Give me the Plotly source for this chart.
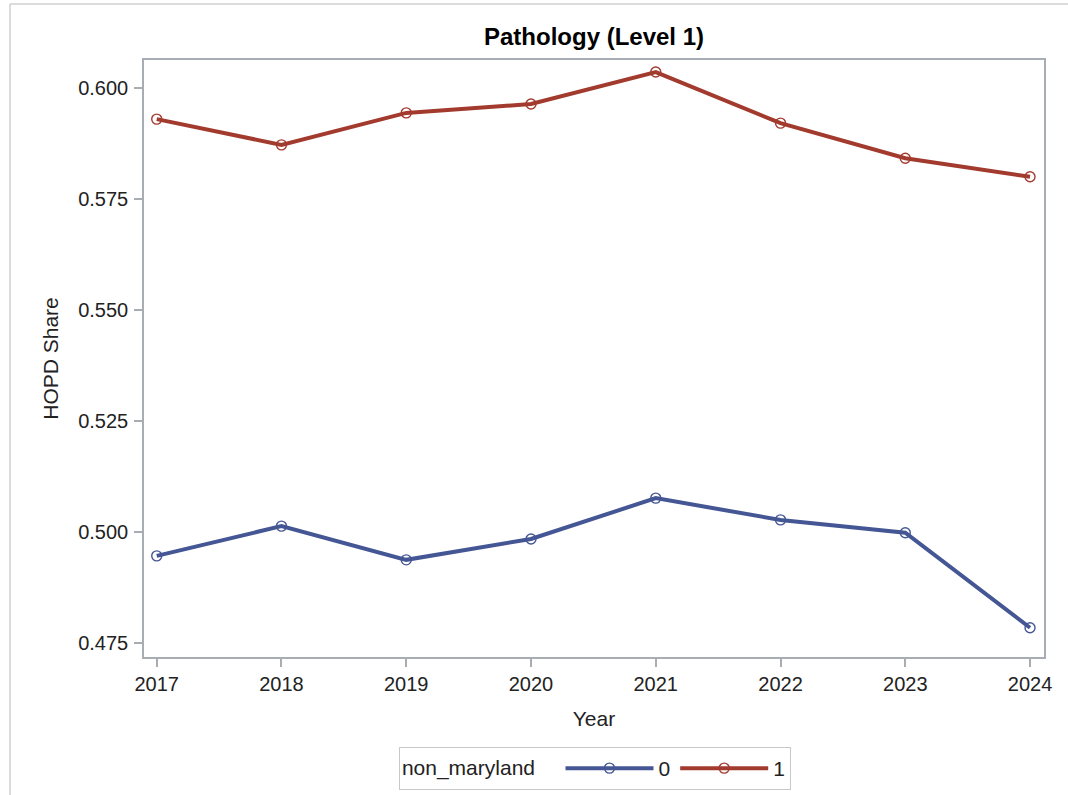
import plotly.graph_objects as go

years = [2017, 2018, 2019, 2020, 2021, 2022, 2023, 2024]
share_0 = [0.4947, 0.5014, 0.4938, 0.4985, 0.5077, 0.5028, 0.4999, 0.4785]
share_1 = [0.5931, 0.5873, 0.5945, 0.5965, 0.6037, 0.5922, 0.5843, 0.5801]
y_ticks = [0.475, 0.500, 0.525, 0.550, 0.575, 0.600]

FONT = "Liberation Sans, Arial, sans-serif"
BLUE = "#445694"
RED = "#A23A2E"

fig = go.Figure()
for name, vals, col in [("0", share_0, BLUE), ("1", share_1, RED)]:
    fig.add_trace(go.Scatter(
        x=years, y=vals, name=name, mode="lines+markers",
        line=dict(color=col, width=4),
        marker=dict(symbol="circle-open", size=10, color=col, line=dict(width=1.4, color=col)),
    ))

def axis(title, standoff, **kw):
    d = dict(
        showline=True, linecolor="#A8ADB4", linewidth=1.5, mirror=True,
        ticks="outside", ticklen=8, tickcolor="#A8ADB4", tickwidth=1.5,
        showgrid=False, zeroline=False, automargin=False,
        tickfont=dict(family=FONT, size=20, color="#222"),
        title=dict(text=title, standoff=standoff, font=dict(family=FONT, size=21, color="#222")),
    )
    d.update(kw)
    return d

fig.update_layout(
    width=1068, height=795,
    margin=dict(l=144, r=24, t=60, b=138),
    paper_bgcolor="white", plot_bgcolor="white",
    title=dict(text="<b>Pathology (Level 1)</b>", x=0.5, xref="paper", xanchor="center",
               y=1 - 37 / 795, yanchor="middle",
               font=dict(family=FONT, size=24, color="#000")),
    xaxis=axis("Year", 18, range=[2016.898, 2024.112], tickmode="array", tickvals=years,
               ticktext=[str(y) for y in years], ticklabelstandoff=0),
    yaxis=axis("HOPD Share", 14, range=[0.47191, 0.60642], tickmode="array", tickvals=y_ticks,
               ticktext=[f"{v:.3f}" for v in y_ticks], ticklabelstandoff=2),
    legend=dict(orientation="h", x=0.501, xanchor="center", xref="paper",
                y=1 - 747 / 795, yanchor="top", yref="container",
                bordercolor="#C8C8C8", borderwidth=1,
                title=dict(text="non_maryland   ", font=dict(family=FONT, size=21, color="#222"), side="left"),
                font=dict(family=FONT, size=21, color="#222"),
                itemwidth=88, tracegroupgap=0),
    showlegend=True,
    shapes=[
        dict(type="line", xref="paper", yref="paper", x0=(10 - 144) / 900, x1=(1068 - 144) / 900 + 0.05,
             y0=1 + (60 - 4) / 597, y1=1 + (60 - 4) / 597, line=dict(color="#D0D0D0", width=1.5)),
        dict(type="line", xref="paper", yref="paper", x0=(10 - 144) / 900, x1=(10 - 144) / 900,
             y0=1 + (60 - 4) / 597, y1=(657 - 800) / 597, line=dict(color="#D0D0D0", width=1.5)),
    ],
)

fig.write_html("out.html", config={"displayModeBar": False},
               post_script="document.body.style.margin='0';document.body.style.overflow='hidden';")
